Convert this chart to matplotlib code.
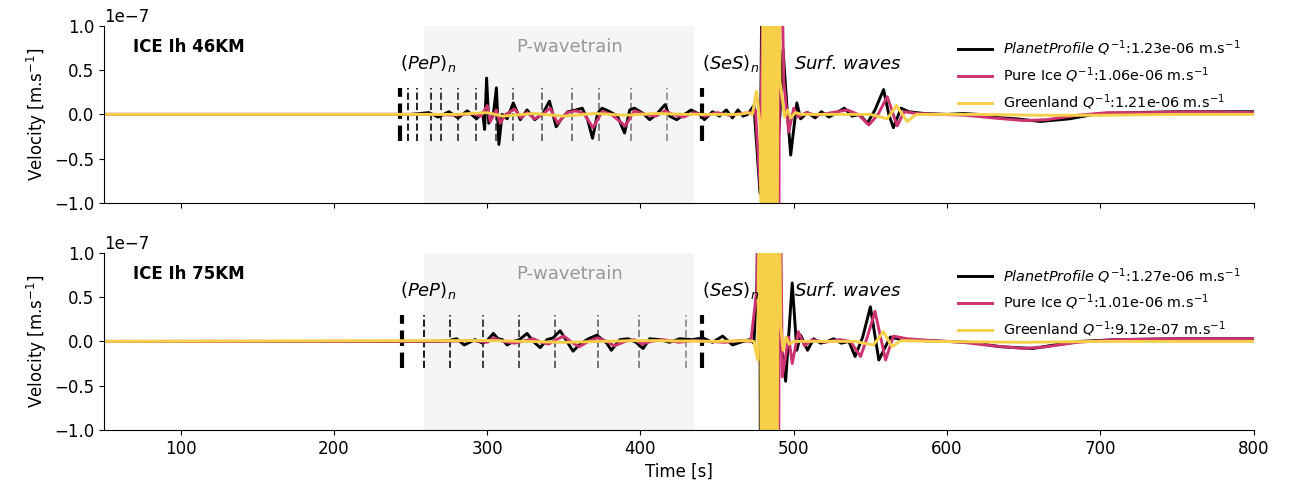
import matplotlib.pyplot as plt
import numpy as np

scale = 1e-7  # trace values below are in units of 1e-7 m/s

# ---- ICE Ih 46KM ----
t46_pp = [50, 250, 262, 268, 275, 281, 287, 293, 297, 298.3, 299.6, 301, 304, 306, 307.6, 309.7, 313, 317,
          321.6, 326, 331, 336.3, 340.6, 345, 348, 352.6, 358, 362, 365.5, 368.7, 372, 375, 380, 385, 389.6,
          393, 396, 401.8, 406, 410.4, 416, 419, 423.6, 427.9, 433, 438.5, 441.7, 447, 451.5, 456, 460,
          463.6, 466.9, 470, 474, 478, 480, 483, 486, 489, 491, 493, 495.5, 498, 502, 504.5, 509, 514, 518,
          523, 528, 533, 538, 543, 548, 553, 558.6, 562, 565, 570, 575, 585, 600, 611, 620, 628, 645, 661,
          680, 696, 720, 752, 800]
v46_pp = [0, 0, 0.02, -0.03, 0.03, -0.04, 0.04, -0.05, 0.02, -0.17, 0.41, -0.1, 0.0, 0.3, -0.34, 0.0, -0.05,
          0.13, -0.06, 0.05, -0.06, 0.01, 0.15, -0.14, -0.06, 0.03, 0.05, 0.07, -0.06, -0.27, 0.01, 0.07,
          0.03, -0.02, -0.21, 0.05, 0.07, 0.01, -0.06, 0.0, 0.11, -0.02, -0.06, -0.01, 0.05, 0.0, -0.06,
          0.03, -0.02, 0.05, -0.04, 0.05, -0.02, 0.0, 0.1, -0.89, 3, -3, 3, -0.5, 0.0, 0.73, 0.1, -0.46,
          0.13, -0.05, 0.02, -0.04, 0.03, -0.03, 0.02, 0.07, -0.02, 0.0, -0.1, 0.05, 0.28, 0.0, -0.15, 0.07,
          0.03, 0.01, 0.0, 0.01, 0.0, -0.03, -0.05, -0.08, -0.05, 0.0, 0.02, 0.03, 0.03]

t46_pi = [50, 265, 280, 290, 296, 300, 302, 306, 308.5, 312, 318, 322, 326, 331, 336, 341, 346, 352, 358, 363,
          369, 375, 381, 390, 396, 403, 410, 416, 421, 428, 435, 442, 450, 458, 466, 472, 475, 478, 481, 484,
          487, 490.2, 490.8, 493.5, 496.7, 500, 503, 508, 515, 525, 535, 542, 549, 555, 561, 567.5, 572, 580,
          595, 612, 630, 650, 665, 685, 705, 730, 760, 800]
v46_pi = [0, 0, -0.01, 0.01, -0.02, 0.1, -0.08, 0.05, -0.1, 0.0, 0.06, -0.04, 0.02, -0.05, 0.0, 0.07, -0.1,
          0.02, 0.04, 0.01, -0.15, 0.03, 0.0, -0.13, 0.04, 0.0, -0.02, 0.04, 0.0, -0.03, 0.02, -0.02, 0.02,
          -0.01, 0.01, 0.02, 0.05, -0.8, 3, -3, 3, -3, 3, 0.37, -0.2, 0.07, -0.03, 0.02, -0.01, 0.02, 0.05,
          0.0, -0.12, 0.0, 0.2, -0.13, 0.03, 0.01, 0.0, -0.01, -0.04, -0.07, -0.06, -0.01, 0.02, 0.02, 0.03,
          0.02]

t46_gl = [50, 280, 300, 310, 330, 350, 370, 390, 410, 430, 450, 465, 470, 473, 475.7, 478, 479.5, 480, 481,
          482, 483, 484, 485, 486, 487, 488, 489, 490, 491, 494, 496, 498, 501, 505, 520, 540, 550, 561, 567,
          574, 580, 590, 620, 660, 700, 750, 800]
v46_gl = [0, 0, 0.02, -0.02, 0.01, -0.02, 0.01, -0.01, 0.01, 0.0, 0.0, 0.0, 0.02, 0.0, 0.26, -0.1, -3, 3,
          -3, 3, -3, 3, -3, 3, -3, 3, -3, 3, 0.37, -0.03, 0.05, -0.04, 0.02, 0.0, 0.0, 0.0, 0.0, -0.05, 0.1,
          -0.08, 0.0, 0.0, 0.0, -0.01, -0.01, 0.0, 0.0]

# ---- ICE Ih 75KM ----
t75_pp = [50, 265, 275, 280, 285, 292, 297, 300, 304, 307, 310, 313, 317, 321, 326, 330, 334.6, 339, 343,
          347.6, 352, 356, 360.6, 366, 371.5, 378, 381, 386.5, 392, 397, 401.7, 406, 412.6, 419, 425.5, 434,
          440.6, 447, 453.6, 460, 466.9, 471, 474, 476, 477.5, 478.5, 480, 482.5, 486, 489, 490, 494.7, 499,
          502, 504.5, 509, 513, 517.6, 522, 526, 531, 536, 540, 545, 550, 555.5, 563, 570, 583, 600, 615,
          635, 656, 670, 687, 710, 750, 800]
v75_pp = [0, 0, 0.01, 0.03, -0.04, 0.02, -0.02, 0.01, 0.09, 0.03, 0.02, -0.04, 0.0, 0.02, 0.09, 0.0, -0.07,
          0.02, 0.04, 0.12, 0.0, -0.11, -0.03, 0.03, 0.07, -0.02, -0.1, 0.02, 0.03, -0.01, -0.08, 0.03, 0.02,
          -0.01, 0.03, 0.02, 0.04, -0.01, 0.06, -0.04, 0.0, 0.02, -0.02, 0.66, 3, -3, 3, -3, 3, -3, 0.2,
          -0.45, 0.66, -0.1, 0.07, -0.1, 0.03, -0.02, 0.0, 0.03, -0.02, 0.0, -0.17, 0.05, 0.39, -0.21, 0.05,
          0.02, 0.01, 0.0, -0.01, -0.06, -0.08, -0.04, 0.0, 0.02, 0.03, 0.03]

t75_pi = [50, 270, 290, 300, 304, 310, 318, 325, 330, 335, 340, 345, 350, 356, 360, 366, 372, 378, 383, 390,
          396, 401, 407, 415, 425, 435, 445, 455, 465, 472, 476, 477.5, 480, 483, 486, 490, 490.7, 492.5,
          496.7, 499, 503, 507, 512, 520, 530, 537, 543.6, 548, 553, 559.9, 565, 574, 590, 610, 630, 650,
          665, 685, 710, 750, 800]
v75_pi = [0, 0, 0.01, -0.01, 0.04, 0.0, -0.02, 0.01, 0.03, -0.01, -0.03, 0.02, 0.06, -0.02, -0.06, 0.0,
          0.04, 0.0, -0.05, 0.0, 0.02, -0.03, 0.0, 0.02, -0.01, 0.01, 0.0, -0.01, 0.01, 0.0, 0.6, 3, -3, 3,
          -3, -3, 3, -0.4, 0.05, -0.25, 0.11, -0.05, 0.02, -0.01, 0.02, 0.0, -0.17, 0.05, 0.34, -0.21, 0.06,
          0.03, 0.01, -0.01, -0.05, -0.08, -0.06, -0.01, 0.02, 0.03, 0.03]

t75_gl = [50, 300, 350, 400, 450, 470, 474, 476.5, 478, 479, 480, 481, 482, 483, 484, 485, 486, 487, 488,
          489, 490, 491.5, 493, 495, 497, 500, 520, 540, 545.6, 552, 558.6, 564, 570, 590, 650, 700, 800]
v75_gl = [0, 0.01, -0.01, 0.01, 0.0, 0.01, 0.0, -0.21, 3, -3, 3, -3, 3, -3, 3, -3, 3, -3, 3, -3, 3, 0.17,
          -0.1, 0.05, -0.03, 0.0, 0.0, 0.0, -0.02, -0.04, 0.11, -0.06, 0.01, 0.0, -0.01, 0.0, 0.0]

# phase picks (s)
pep46 = [243, 248, 254, 263, 270, 281, 293, 306, 317, 336, 355, 373, 394, 417]
ses46 = 440
pep75 = [244.6, 258.6, 276, 297, 320.6, 344, 372, 399, 429.5]
ses75 = 440

models = [r'$\mathit{PlanetProfile}$', 'Pure Ice', 'Greenland']
q46 = ['1.23e-06', '1.06e-06', '1.21e-06']
q75 = ['1.27e-06', '1.01e-06', '9.12e-07']
titles = ['ICE Ih 46KM', 'ICE Ih 75KM']
pwave_span = (259, 435)

colors = ['#000000', '#cc3370', '#f7cf48']

fig, axes = plt.subplots(2, 1, figsize=(12.91, 4.88), dpi=100, sharex=True)
fig.subplots_adjust(left=0.0806, right=0.971, top=0.947, bottom=0.119, hspace=0.2825)

panels = [
    (titles[0], [(t46_pp, v46_pp), (t46_pi, v46_pi), (t46_gl, v46_gl)], q46, pep46, ses46),
    (titles[1], [(t75_pp, v75_pp), (t75_pi, v75_pi), (t75_gl, v75_gl)], q75, pep75, ses75),
]

for ax, (title, traces, qs, pep, ses) in zip(axes, panels):
    ax.axvspan(*pwave_span, color='gray', alpha=0.08, lw=0, zorder=0)
    # PeP picks: first one thick, the rest fade to grey
    ax.vlines(pep[0], -0.3 * scale, 0.3 * scale, colors='k', linestyles='--', lw=3, zorder=1)
    n = len(pep) - 1
    for i, tp in enumerate(pep[1:]):
        g = 0.1 + 0.5 * i / max(n - 1, 1)
        ax.vlines(tp, -0.3 * scale, 0.3 * scale, colors=str(g), linestyles='--', lw=1.4, zorder=1)
    ax.vlines(ses, -0.3 * scale, 0.3 * scale, colors='k', linestyles='--', lw=3, zorder=1)

    for (tt, vv), c, m, q in zip(traces, colors, models, qs):
        ax.plot(tt, np.array(vv) * scale, color=c, lw=2.1,
                label=f'{m} $Q^{{-1}}$:{q} m.s$^{{-1}}$', zorder=2)

    ax.text(69, 0.76 * scale, title, fontsize=12, fontweight='bold', va='center')
    ax.text(243, 0.57 * scale, r'$(PeP)_n$', fontsize=13, va='center')
    ax.text(354, 0.76 * scale, 'P-wavetrain', fontsize=13, color='#999999', ha='center', va='center')
    ax.text(440, 0.57 * scale, r'$(SeS)_n$', fontsize=13, va='center')
    ax.text(500, 0.57 * scale, r'$Surf.\,waves$', fontsize=13, va='center')

    ax.set_xlim(50, 800)
    ax.set_ylim(-1e-7, 1e-7)
    ax.set_yticks([-1e-7, -0.5e-7, 0, 0.5e-7, 1e-7])
    ax.set_ylabel('Velocity [m.s$^{-1}$]', fontsize=12)
    ax.tick_params(labelsize=12)
    ax.yaxis.get_offset_text().set_fontsize(12)
    ax.spines['top'].set_visible(False)
    ax.spines['right'].set_visible(False)
    ax.legend(loc='upper right', frameon=False, fontsize=10.4, handlelength=2.3)

axes[1].set_xlabel('Time [s]', fontsize=12)
axes[1].set_xticks([100, 200, 300, 400, 500, 600, 700, 800])

fig.savefig('out.png', dpi=100)
